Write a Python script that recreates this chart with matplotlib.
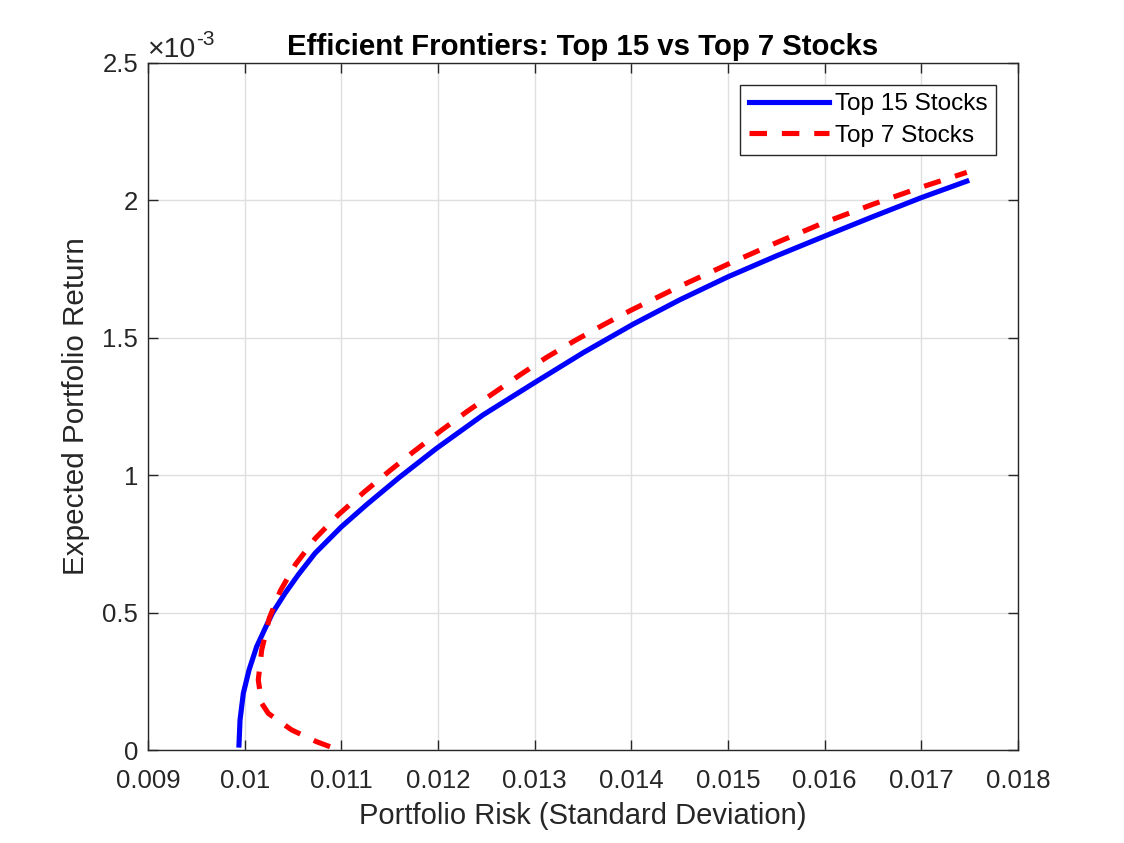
import numpy as np
import matplotlib
matplotlib.use('Agg')
import matplotlib.pyplot as plt
from matplotlib.ticker import FuncFormatter

plt.rcParams['font.family'] = ['Liberation Sans', 'DejaVu Sans']

# Top 15 stocks frontier: risk (std) and expected return (x1e-3)
risk_15 = [0.009941, 0.009952, 0.009986, 0.010045, 0.010124, 0.010228, 0.010290,
           0.010417, 0.010555, 0.010728, 0.011000, 0.011262, 0.011600, 0.011986,
           0.012469, 0.012986, 0.013503, 0.014021, 0.014500, 0.015000, 0.015500,
           0.016000, 0.016500, 0.017000, 0.017470]
ret_15 = [0.018, 0.109, 0.206, 0.291, 0.376, 0.455, 0.500,
          0.570, 0.638, 0.716, 0.812, 0.893, 0.992, 1.098,
          1.220, 1.334, 1.446, 1.550, 1.638, 1.722, 1.798,
          1.870, 1.941, 2.010, 2.070]

# Top 7 stocks frontier
risk_7 = [0.010883, 0.010745, 0.010486, 0.010245, 0.010176, 0.010141, 0.010176,
          0.010255, 0.010370, 0.010525, 0.010730, 0.010975, 0.011240, 0.011503,
          0.011745, 0.012038, 0.012297, 0.012572, 0.012848, 0.013124, 0.013417,
          0.013710, 0.014000, 0.014500, 0.015000, 0.015500, 0.016000, 0.016500,
          0.017000, 0.017470]
ret_7 = [0.012, 0.030, 0.073, 0.133, 0.170, 0.255, 0.364,
         0.480, 0.580, 0.675, 0.770, 0.858, 0.940, 1.017,
         1.085, 1.164, 1.231, 1.298, 1.365, 1.429, 1.490,
         1.547, 1.601, 1.687, 1.768, 1.846, 1.920, 1.986,
         2.048, 2.102]

x_ticks = [0.009, 0.010, 0.011, 0.012, 0.013, 0.014, 0.015, 0.016, 0.017, 0.018]
y_ticks = [0, 0.5, 1, 1.5, 2, 2.5]

axis_col = '#262626'
W, H = 1124, 843

fig = plt.figure(figsize=(W / 100, H / 100), dpi=100)
ax = fig.add_axes([148 / W, 93 / H, 870 / W, 687 / H])

ax.plot(risk_15, np.array(ret_15) * 1e-3, color='#0000ff', lw=3.7,
        label='Top 15 Stocks', solid_joinstyle='round')
ax.plot(risk_7, np.array(ret_7) * 1e-3, color='#ff0000', lw=3.7,
        dashes=(3.4, 2.9), label='Top 7 Stocks')

ax.set_xlim(0.009, 0.018)
ax.set_ylim(0, 2.5e-3)
ax.set_xticks(x_ticks)
ax.set_yticks(np.array(y_ticks) * 1e-3)
ax.xaxis.set_major_formatter(FuncFormatter(lambda v, p: f'{round(v, 6):g}'))
ax.yaxis.set_major_formatter(FuncFormatter(lambda v, p: f'{round(v * 1e3, 6):g}'))

ax.grid(True, color='#dfdfdf', lw=1)
ax.set_axisbelow(True)
ax.tick_params(direction='in', top=True, right=True, length=7, width=1,
               colors=axis_col, labelsize=18.5)
ax.tick_params(axis='x', pad=14)
ax.tick_params(axis='y', pad=7)
for s in ax.spines.values():
    s.set_color(axis_col)
    s.set_linewidth(1)

# exponent label above the y axis
fig.text(147 / W, 1 - 57 / H, '\u00d710', fontsize=20.5, color=axis_col,
         ha='left', va='baseline')
fig.text(196 / W, 1 - 45 / H, '-3', fontsize=15, color=axis_col,
         ha='left', va='baseline')

ax.set_xlabel('Portfolio Risk (Standard Deviation)', fontsize=21,
              color=axis_col, labelpad=6)
ax.set_ylabel('Expected Portfolio Return', fontsize=21.3, color=axis_col,
              labelpad=9)
ax.set_title('Efficient Frontiers: Top 15 vs Top 7 Stocks', fontsize=21.2,
             fontweight='bold', pad=6)

leg = ax.legend(loc='upper right', fontsize=17.6, borderaxespad=0.9,
                handlelength=3.3, handletextpad=0.25, borderpad=0.33,
                labelspacing=0.38, fancybox=False, framealpha=1)
leg.get_frame().set_edgecolor(axis_col)
leg.get_frame().set_linewidth(1)

fig.savefig('out.png', dpi=100)
